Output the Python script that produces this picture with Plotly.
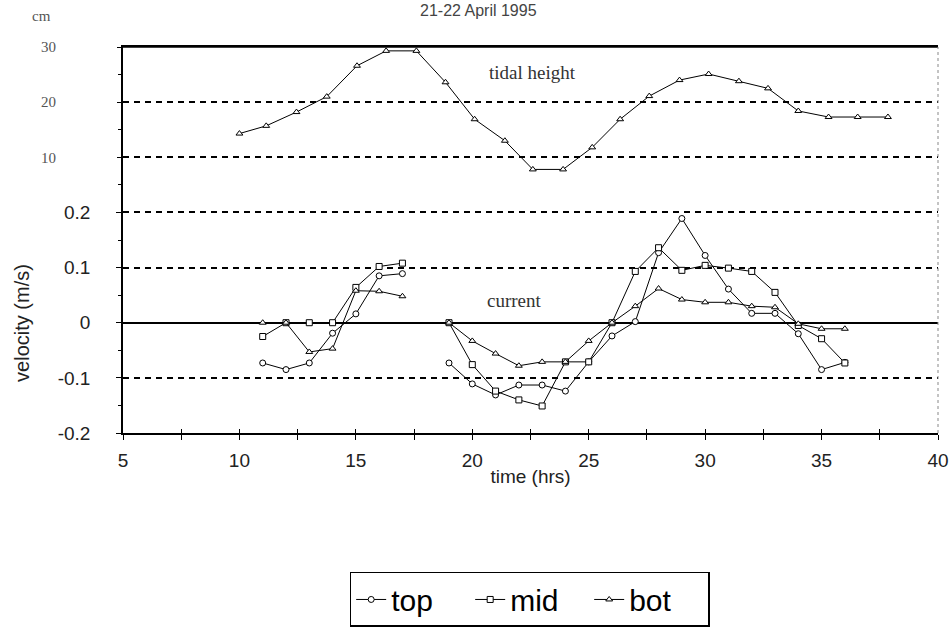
import plotly.graph_objects as go

# Current meter record, 21-22 April, hourly readings (m/s)
hours = [11, 12, 13, 14, 15, 16, 17, 18, 19, 20, 21, 22, 23, 24, 25, 26, 27,
         28, 29, 30, 31, 32, 33, 34, 35, 36]
top = [-0.073, -0.085, -0.073, -0.019, 0.016, 0.085, 0.089, None,
       -0.073, -0.111, -0.131, -0.113, -0.113, -0.124, -0.071, -0.024, 0.002,
       0.127, 0.189, 0.122, 0.061, 0.017, 0.017, -0.020, -0.085, -0.072]
mid = [-0.025, 0.0, 0.0, 0.0, 0.064, 0.102, 0.108, None,
       0.0, -0.076, -0.124, -0.140, -0.151, -0.071, -0.071, 0.0, 0.093,
       0.136, 0.095, 0.104, 0.099, 0.093, 0.055, -0.005, -0.029, -0.073]
bot = [0.0, 0.0, -0.053, -0.047, 0.058, 0.057, 0.048, None,
       0.0, -0.033, -0.056, -0.078, -0.071, -0.071, -0.033, 0.0, 0.030,
       0.062, 0.042, 0.037, 0.037, 0.030, 0.028, -0.002, -0.011, -0.011]

# Tidal height (cm)
tide_hours = [10.0, 11.15, 12.45, 13.75, 15.05, 16.3, 17.6, 18.85, 20.1, 21.4,
              22.6, 23.9, 25.15, 26.35, 27.6, 28.9, 30.15, 31.45, 32.7, 34.0,
              35.3, 36.55, 37.85]
tide_cm = [14.3, 15.7, 18.2, 21.0, 26.6, 29.3, 29.3, 23.6, 16.9, 13.0,
           7.8, 7.8, 11.8, 16.9, 21.1, 24.0, 25.1, 23.8, 22.5, 18.4,
           17.3, 17.3, 17.3]

vel_ticks = [-0.2, -0.1, 0, 0.1, 0.2]
vel_labels = ["-0.2", "-0.1", "0", "0.1", "0.2"]
cm_ticks = [10, 20, 30]
cm_labels = ["10", "20", "30"]
x_ticks = [5, 10, 15, 20, 25, 30, 35, 40]

SANS = "Liberation Sans, Arial, sans-serif"
SERIF = "Liberation Serif, Times New Roman, serif"

fig = go.Figure()

series = [("top", top, "circle"), ("mid", mid, "square"), ("bot", bot, "triangle-up")]
for name, vals, sym in series:
    fig.add_trace(go.Scatter(
        x=hours, y=vals, name=name, mode="lines+markers",
        line=dict(color="black", width=1),
        marker=dict(symbol=sym, size=6, color="white",
                    line=dict(color="black", width=1)),
        connectgaps=False,
    ))

# tidal height drawn against the cm scale that shares the left axis
fig.add_trace(go.Scatter(
    x=tide_hours, y=tide_cm, yaxis="y2", mode="lines+markers",
    showlegend=False,
    line=dict(color="black", width=1),
    marker=dict(symbol="triangle-up", size=6, color="white",
                line=dict(color="black", width=1)),
))

axis_common = dict(showline=True, linecolor="black", linewidth=1.5, automargin=False)

fig.update_layout(
    width=952, height=641,
    margin=dict(l=123, r=14, t=47, b=208),
    paper_bgcolor="white", plot_bgcolor="white",
    showlegend=True,
    legend=dict(
        orientation="h", x=0.499, xanchor="center", y=-0.36, yanchor="top",
        font=dict(family=SANS, size=30, color="black"),
        bordercolor="black", borderwidth=1.5, bgcolor="white",
        entrywidth=74, entrywidthmode="pixels", tracegroupgap=0,
    ),
    xaxis=dict(
        range=[5, 40], tickvals=x_ticks, ticks="outside", ticklen=5,
        tickwidth=1, tickcolor="black",
        minor=dict(dtick=2.5, tick0=5, ticks="outside", ticklen=5,
                   tickcolor="black", showgrid=False),
        showgrid=False, zeroline=False, mirror=True,
        tickfont=dict(family=SANS, size=19, color="#222"),
        ticklabelstandoff=4,
        title=dict(text="time (hrs)", font=dict(family=SANS, size=19, color="#222"),
                   standoff=0),
        **axis_common,
    ),
    xaxis2=dict(
        range=[5, 40], overlaying="x", anchor="y", side="bottom", automargin=False,
        dtick=2.5, tick0=5, ticks="inside", ticklen=4, tickcolor="black",
        showticklabels=False, showgrid=False, zeroline=False, showline=False,
    ),
    yaxis=dict(
        range=[-0.2, 0.5], tickvals=vel_ticks, ticktext=vel_labels,
        ticks="outside", ticklen=5, tickcolor="black",
        minor=dict(dtick=0.05, tick0=0, ticks="outside", ticklen=3,
                   tickcolor="black", showgrid=False),
        showgrid=True, gridcolor="black", gridwidth=1.5, griddash="6px,5px",
        zeroline=True, zerolinecolor="black", zerolinewidth=1.5,
        tickfont=dict(family=SANS, size=19, color="#222"),
        ticklabelstandoff=22,
        **axis_common,
    ),
    yaxis2=dict(
        range=[-40, 30], overlaying="y", anchor="x", side="left", automargin=False,
        tickvals=cm_ticks, ticktext=cm_labels,
        ticks="outside", ticklen=5, tickcolor="black",
        showgrid=True, gridcolor="black", gridwidth=1.5, griddash="6px,5px",
        zeroline=False, showline=False,
        tickfont=dict(family=SERIF, size=15, color="#555"),
        ticklabelstandoff=58,
    ),
    yaxis3=dict(
        range=[-0.2, 0.5], overlaying="y", anchor="x", side="left", automargin=False,
        dtick=0.1, tick0=0, ticks="inside", ticklen=5, tickcolor="black",
        showticklabels=False, showgrid=False, zeroline=False, showline=False,
    ),
)

# top frame line and faint right border
fig.add_shape(type="line", xref="paper", yref="paper", x0=0, x1=1, y0=1, y1=1,
              line=dict(color="black", width=1.5))
fig.add_shape(type="line", xref="paper", yref="paper", x0=1, x1=1, y0=0, y1=1,
              line=dict(color="#888", width=1, dash="dot"))

# text labels
fig.add_annotation(text="velocity (m/s)", textangle=-90, xref="paper", yref="paper",
                   x=-0.124, y=0.285, showarrow=False, xanchor="center", yanchor="middle",
                   font=dict(family=SANS, size=20, color="#222"))
fig.add_annotation(text="cm", xref="paper", yref="paper", x=-0.1, y=1.08,
                   showarrow=False, xanchor="center", yanchor="middle",
                   font=dict(family=SERIF, size=15, color="#555"))
fig.add_annotation(text="21-22 April 1995", xref="paper", yref="paper", x=0.436, y=1.121,
                   showarrow=False, xanchor="center", yanchor="top",
                   font=dict(family=SANS, size=16, color="#444"))
fig.add_annotation(text="tidal height", x=22.6, y=25.3, yref="y2", showarrow=False,
                   font=dict(family=SERIF, size=19, color="#333"))
fig.add_annotation(text="current", x=21.8, y=0.04, showarrow=False,
                   font=dict(family=SERIF, size=19, color="#333"))

# invisible helpers so the tick-only overlay axes are drawn
fig.add_trace(go.Scatter(x=[None], y=[None], xaxis="x2", showlegend=False, hoverinfo="skip"))
fig.add_trace(go.Scatter(x=[None], y=[None], yaxis="y3", showlegend=False, hoverinfo="skip"))

fig.write_html("out.html")
